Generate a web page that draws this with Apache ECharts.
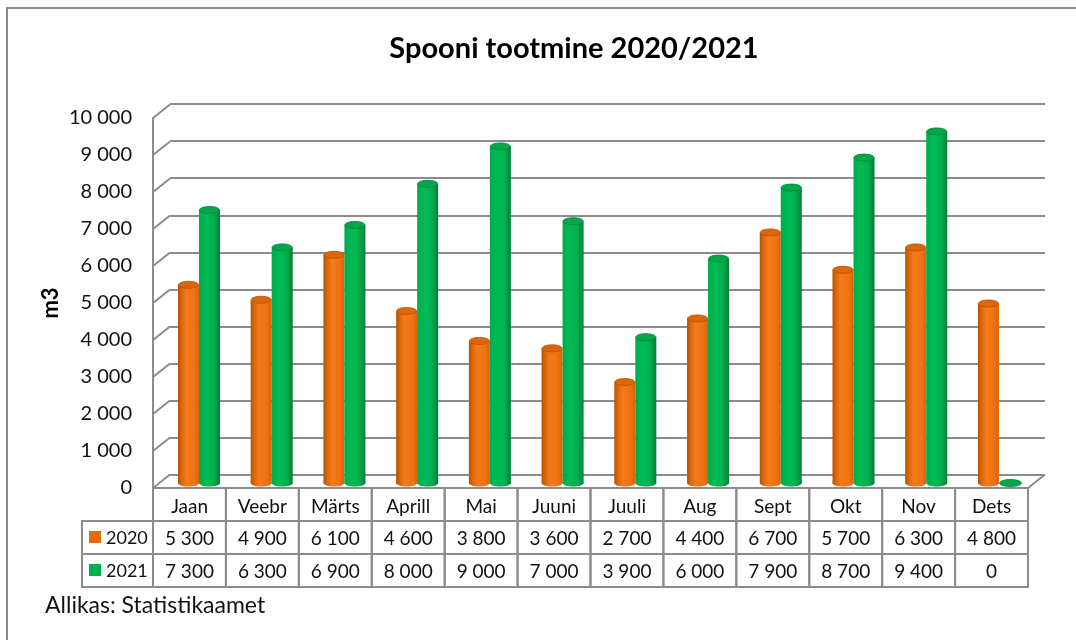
<!DOCTYPE html>
<html>
<head>
<meta charset="utf-8">
<script src="https://cdn.jsdelivr.net/npm/echarts@6/dist/echarts.min.js"></script>
<style>html,body{margin:0;padding:0;background:#fff;}#c{width:1076px;height:640px;}</style>
</head>
<body>
<div id="c"></div>
<script>
const months = ['Jaan','Veebr','Märts','Aprill','Mai','Juuni','Juuli','Aug','Sept','Okt','Nov','Dets'];
const years = ['2020','2021'];
const v2020 = [5300,4900,6100,4600,3800,3600,2700,4400,6700,5700,6300,4800];
const v2021 = [7300,6300,6900,8000,9000,7000,3900,6000,7900,8700,9400,0];
const yTicks = [0,1000,2000,3000,4000,5000,6000,7000,8000,9000,10000];
const tableRows = ['', '2020', '2021'];

const FONT = 'Lato, "Liberation Sans", sans-serif';
const GRID = '#8c8c8c';
const fmt = v => String(v).replace(/\B(?=(\d{3})+(?!\d))/g, ' ');

const seriesStyle = [
  {grad: [[0,'#b35300'],[0.18,'#dd670a'],[0.4,'#f27b1c'],[0.8,'#ef7112'],[1,'#d96208']], top:'#dc6608', topStroke:'#b85300', key:'#e46c0a'},
  {grad: [[0,'#00ab4c'],[0.35,'#00bb55'],[0.7,'#00b050'],[0.88,'#009341'],[1,'#007a34']], top:'#00a84a', topStroke:'#00803a', key:'#00b050'}
];

function cylRender(si, offset, barW) {
  return function (params, api) {
    const i = api.value(0), v = api.value(1);
    const top = api.coord([i, v]);
    const base = api.coord([i, 0]);
    const cx = top[0] + offset;
    const x0 = cx - barW / 2;
    const ry = 3.5;
    const st = seriesStyle[si];
    const grad = new echarts.graphic.LinearGradient(0, 0, 1, 0,
      st.grad.map(s => ({offset: s[0], color: s[1]})));
    const children = [];
    if (v > 0) {
      children.push({type:'rect', shape:{x:x0, y:top[1], width:barW, height:base[1]-top[1]}, style:{fill:grad}});
      children.push({type:'ellipse', shape:{cx:cx, cy:base[1], rx:barW/2, ry:ry}, style:{fill:grad}});
      children.push({type:'ellipse', shape:{cx:cx, cy:top[1], rx:barW/2 - 0.5, ry:ry}, style:{fill:st.top, stroke:st.topStroke, lineWidth:0.8}});
    } else {
      children.push({type:'ellipse', shape:{cx:cx + 1, cy:base[1], rx:barW/2 + 0.5, ry:ry}, style:{fill:st.top, stroke:st.topStroke, lineWidth:0.8}});
    }
    return {type:'group', children};
  };
}

const chart = echarts.init(document.getElementById('c'), null, {renderer:'canvas'});

const tableData = [];
for (let c = 0; c < months.length; c++) for (let r = 0; r < 3; r++) tableData.push([c, r]);
tableData.push([-1, 1]);
tableData.push([-1, 2]);

const diagData = yTicks.map(v => [0, v]).concat([[12, 0]]);

const option = {
  animation: false,
  backgroundColor: '#ffffff',
  title: {
    text: 'Spooni tootmine 2020/2021',
    left: 569, top: 29, textAlign: 'center',
    textStyle: {fontFamily: FONT, fontSize: 29, fontWeight: 'bold', color: '#000'}
  },
  graphic: [
    {type:'rect', shape:{x:7, y:8, width:1200, height:800}, style:{fill:'none', stroke:GRID, lineWidth:2}, z:-10},
    {type:'text', left: 45, top: 594, style:{text:'Allikas: Statistikaamet', fontFamily:FONT, fontSize:23, fill:'#111'}}
  ],
  grid: [
    {left:170, right:31, top:104, height:371},
    {left:153, right:48, top:118, height:370},
    {left:162.6, right:40.7, top:109, height:374},
    {left:153, right:48, top:488, height:99}
  ],
  xAxis: [
    {gridIndex:0, type:'value', min:0, max:1, show:false},
    {gridIndex:1, type:'value', min:0, max:12, show:false},
    {gridIndex:2, type:'category', data:months, show:false},
    {gridIndex:3, type:'category', data:months, show:false}
  ],
  yAxis: [
    {gridIndex:0, type:'value', min:0, max:10000, interval:1000,
      axisLabel:{show:false}, axisTick:{show:false}, axisLine:{show:false},
      splitLine:{show:true, lineStyle:{color:GRID, width:2}}},
    {gridIndex:1, type:'value', min:0, max:10000, interval:1000,
      name:'m3', nameLocation:'middle', nameRotate:90, nameGap:91, nameMoveOverlap:false,
      nameTextStyle:{fontFamily:FONT, fontSize:22, fontWeight:'bold', color:'#000'},
      axisLabel:{margin:21, fontFamily:FONT, fontSize:20, color:'#111', formatter: v => fmt(v)},
      axisTick:{show:false}, axisLine:{show:true, lineStyle:{color:GRID, width:2}},
      splitLine:{show:false}},
    {gridIndex:2, type:'value', min:0, max:10000, show:false, splitLine:{show:false}},
    {gridIndex:3, type:'category', data:tableRows, inverse:true, show:false}
  ],
  series: [
    {
      type:'custom', xAxisIndex:1, yAxisIndex:1, data: diagData, z:1,
      renderItem: function (params, api) {
        const p = api.coord([api.value(0), api.value(1)]);
        return {type:'line', shape:{x1:p[0], y1:p[1], x2:p[0]+17, y2:p[1]-13.5}, style:{stroke:GRID, lineWidth:2}};
      }
    },
    {type:'custom', name:years[0], xAxisIndex:2, yAxisIndex:2, data: v2020.map((v,i)=>[i,v]), z:5, renderItem: cylRender(0, -10.5, 21)},
    {type:'custom', name:years[1], xAxisIndex:2, yAxisIndex:2, data: v2021.map((v,i)=>[i,v]), z:6, renderItem: cylRender(1, 10.5, 21)},
    {
      type:'custom', xAxisIndex:3, yAxisIndex:3, data: tableData, z:8,
      renderItem: function (params, api) {
        const col = api.value(0), row = api.value(1);
        const p = api.coord([col, row]);
        const s = api.size([1, 1]);
        const x0 = p[0] - s[0]/2, y0 = p[1] - s[1]/2;
        const children = [];
        if (col < 0) {
          const w = 71;
          const xl = x0 + s[0] - w;
          children.push({type:'rect', shape:{x:xl, y:y0, width:w, height:s[1]}, style:{fill:'#fff', stroke:GRID, lineWidth:2}});
          const si = row - 1;
          children.push({type:'rect', shape:{x:xl+7, y:p[1]-6.5, width:12, height:12}, style:{fill:seriesStyle[si].key}});
          children.push({type:'text', style:{x:xl+24, y:p[1]+1, text:years[si], fontFamily:FONT, fontSize:18, fill:'#111', align:'left', verticalAlign:'middle'}});
        } else {
          let txt;
          if (row === 0) txt = months[col];
          else if (row === 1) txt = fmt(v2020[col]);
          else txt = fmt(v2021[col]);
          children.push({type:'rect', shape:{x:x0, y:y0, width:s[0], height:s[1]}, style:{fill:'none', stroke:GRID, lineWidth:2}});
          children.push({type:'text', style:{x:p[0], y:p[1]+(row===0?2:1), text:txt, fontFamily:FONT, fontSize:19, fill:'#111', align:'center', verticalAlign:'middle'}});
        }
        return {type:'group', children};
      }
    }
  ]
};
chart.setOption(option);
</script>
</body>
</html>
